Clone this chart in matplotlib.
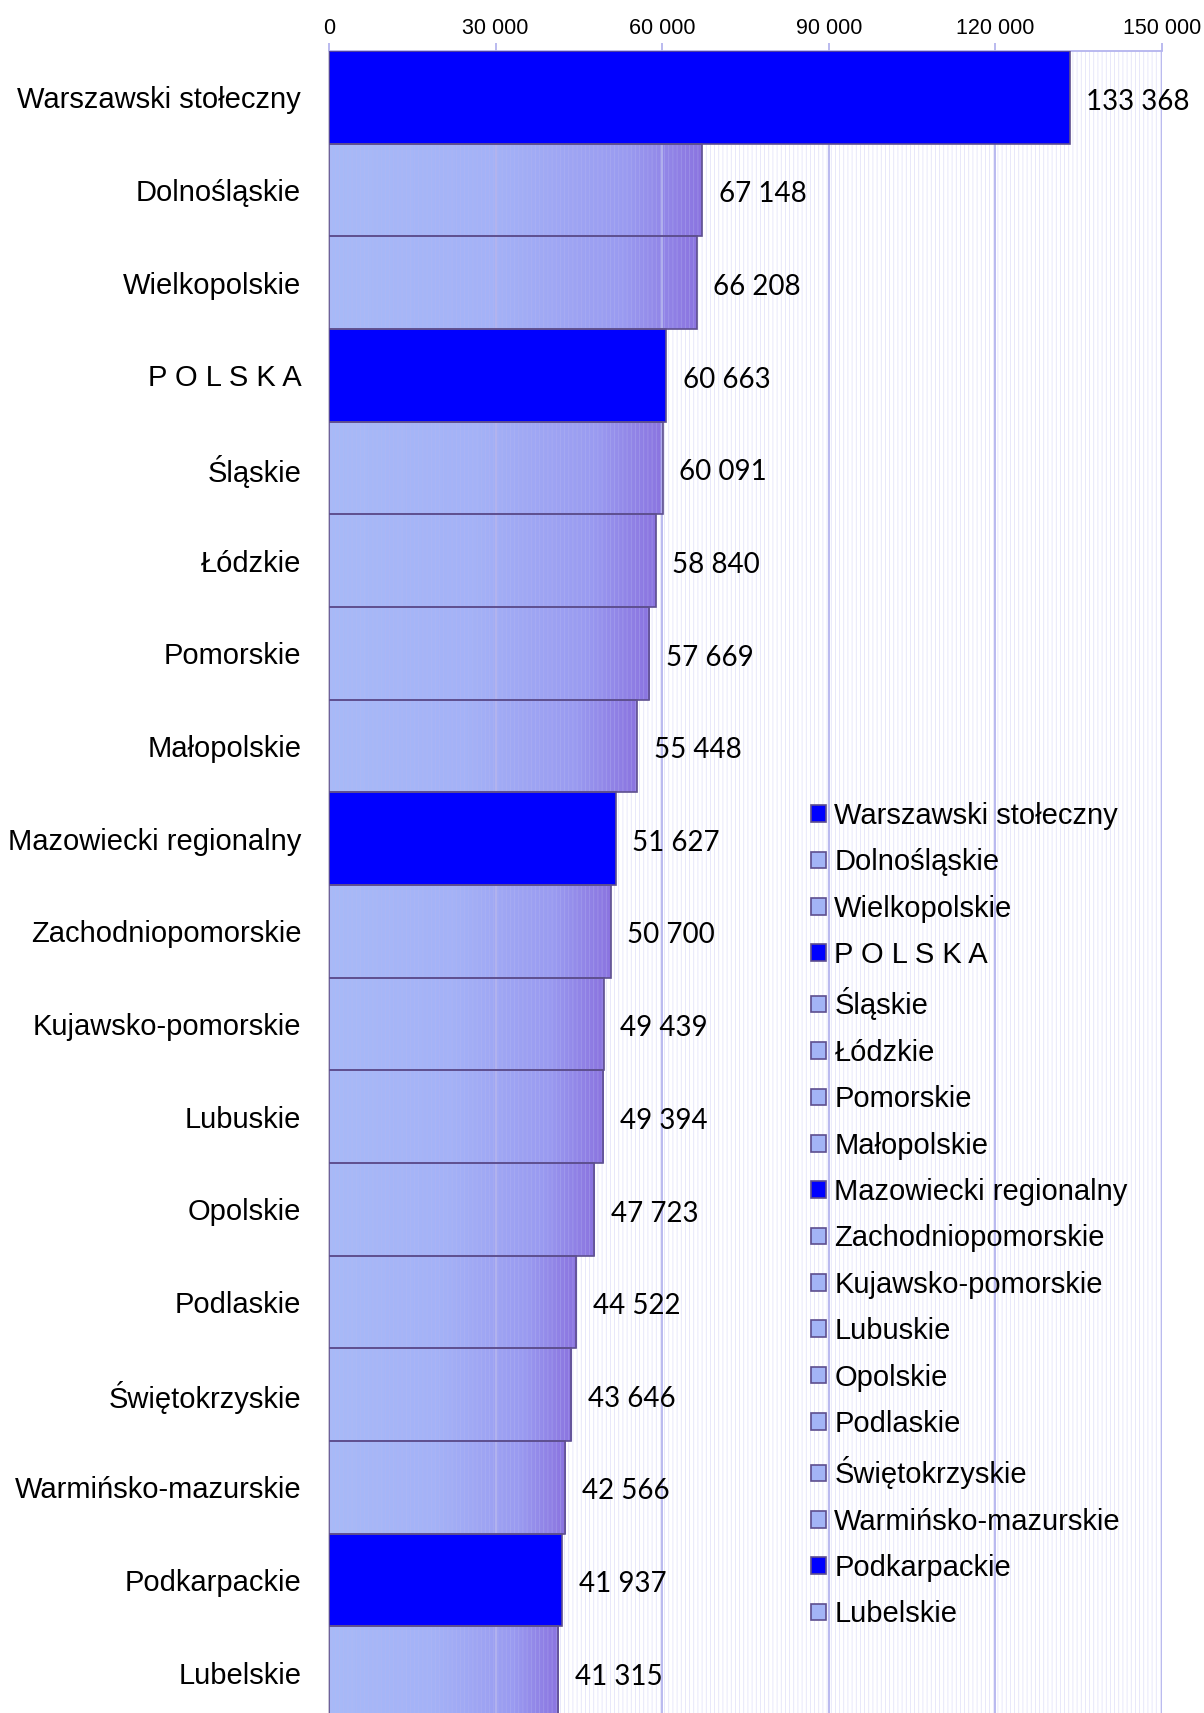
import matplotlib
matplotlib.use("Agg")
import matplotlib.pyplot as plt
from matplotlib.colors import LinearSegmentedColormap
from matplotlib.patches import Rectangle, Patch
import numpy as np

regions = ["Warszawski stołeczny", "Dolnośląskie", "Wielkopolskie", "P O L S K A",
           "Śląskie", "Łódzkie", "Pomorskie", "Małopolskie", "Mazowiecki regionalny",
           "Zachodniopomorskie", "Kujawsko-pomorskie", "Lubuskie", "Opolskie",
           "Podlaskie", "Świętokrzyskie", "Warmińsko-mazurskie", "Podkarpackie",
           "Lubelskie"]
values = [133368, 67148, 66208, 60663, 60091, 58840, 57669, 55448, 51627,
          50700, 49439, 49394, 47723, 44522, 43646, 42566, 41937, 41315]
highlighted = ["Warszawski stołeczny", "P O L S K A", "Mazowiecki regionalny", "Podkarpackie"]
xticks = [0, 30000, 60000, 90000, 120000, 150000]

BLUE = "#0000FF"
EDGE = "#5E4F8F"
LIGHT = "#A3B4F6"
GRID = "#B4B4EE"

plt.rcParams["font.family"] = ["Liberation Sans", "DejaVu Sans"]
plt.rcParams["hatch.linewidth"] = 0.5

grad = LinearSegmentedColormap.from_list(
    "bar", [(0.0, "#A8BAF8"), (0.45, "#A4B2F7"), (0.8, "#9A9BF1"), (1.0, "#8B74E0")])

fig = plt.figure(figsize=(12.04, 17.13), dpi=100)
ax = fig.add_axes([329 / 1204, -6 / 1713, 833 / 1204, 1668 / 1713])

# dotted background pattern
ax.add_patch(Rectangle((0, -0.5), 150000, len(values), facecolor="none",
                       edgecolor=(0.72, 0.72, 0.94, 0.45), hatch="||||", lw=0, zorder=1.6))

ramp = np.linspace(0, 1, 256).reshape(1, -1)
for i, (name, v) in enumerate(zip(regions, values)):
    if name in highlighted:
        ax.add_patch(Rectangle((0, i - 0.5), v, 1, facecolor=BLUE, edgecolor=EDGE,
                               lw=1.2, zorder=3))
    else:
        ax.imshow(ramp, cmap=grad, extent=(0, v, i - 0.5, i + 0.5), aspect="auto",
                  zorder=1, interpolation="bilinear")
        ax.add_patch(Rectangle((0, i - 0.5), v, 1, facecolor="none", edgecolor=EDGE,
                               lw=1.2, zorder=3.5))
    ax.annotate(f"{v:,}".replace(",", " "), (v, i), xytext=(12, -3),
                textcoords="offset points", va="center", ha="left",
                fontsize=20, family=["Lato", "DejaVu Sans"], zorder=5)

for x in xticks[1:]:
    ax.axvline(x, color=GRID, lw=1.3, zorder=1.5)

ax.set_xlim(0, 150000)
ax.set_ylim(len(values) - 0.5, -0.5)
ax.set_aspect("auto")

ax.set_yticks(range(len(values)))
ax.set_yticklabels(regions, fontsize=21)
ax.tick_params(axis="y", length=0, pad=20)

ax.xaxis.tick_top()
ax.set_xticks(xticks)
ax.set_xticklabels([f"{x:,}".replace(",", " ") for x in xticks], fontsize=15.5)
ax.tick_params(axis="x", length=6, width=1.3, color=GRID, pad=3)

for side in ["right", "bottom"]:
    ax.spines[side].set_visible(False)
ax.spines["top"].set_color(GRID)
ax.spines["top"].set_linewidth(1.3)
ax.spines["left"].set_color("#C4C0D4")
ax.spines["left"].set_linewidth(1.3)

handles = [Patch(facecolor=BLUE if n in highlighted else LIGHT, edgecolor=EDGE, lw=1.2)
           for n in regions]
leg = ax.legend(handles, regions, loc="upper left",
                bbox_to_anchor=(811 / 1204, 1 - 802 / 1713), bbox_transform=fig.transFigure,
                frameon=False, fontsize=21, handlelength=0.5, handleheight=0.5,
                handletextpad=0.3, labelspacing=0.63, borderpad=0, borderaxespad=0)
leg.set_zorder(6)

fig.savefig("out.png", dpi=100)
